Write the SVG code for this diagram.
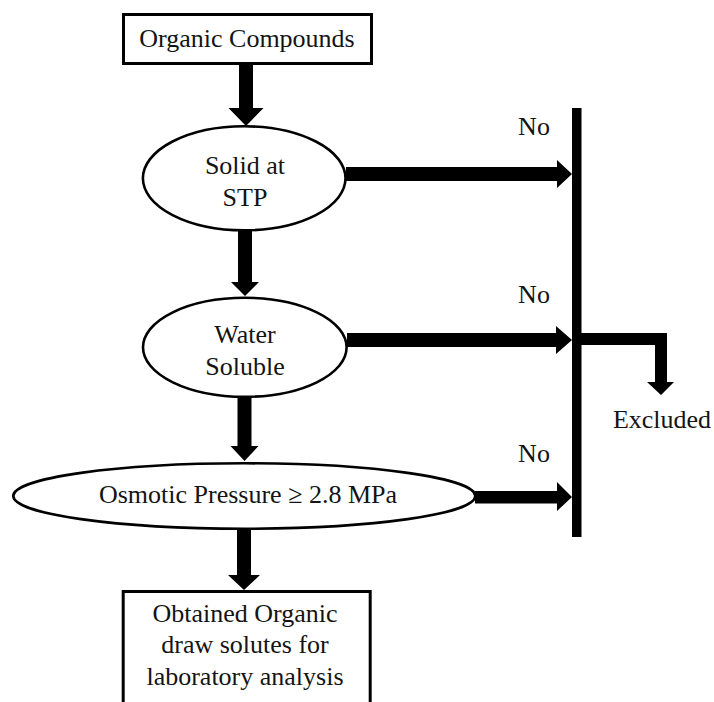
<svg xmlns="http://www.w3.org/2000/svg" width="714" height="702" viewBox="0 0 714 702">
<style>
.box{fill:#fff;stroke:#000;stroke-width:3}
.ell{fill:#fff;stroke:#000;stroke-width:2.6}
.arrow{fill:#000;stroke:none}
text{font-family:'Liberation Serif',Tinos,'Times New Roman','DejaVu Serif',serif;font-size:26px;fill:#141414;text-anchor:middle}
</style>
<rect width="714" height="702" fill="#fff"/>
<g id="connectors">
  <polygon class="arrow" points="239,64 253,64 253,108 263.5,108 246,126 228.5,108 239,108"/>
  <polygon class="arrow" points="238,230 252,230 252,282 259,282 245,296 231,282 238,282"/>
  <polygon class="arrow" points="237.5,397 251.5,397 251.5,446 258.5,446 244.5,461 230.5,446 237.5,446"/>
  <polygon class="arrow" points="237,529 251,529 251,575 260,575 244,590 228,575 237,575"/>
  <polygon class="arrow" points="346,167 557,167 557,160 572,174 557,188 557,181 346,181"/>
  <polygon class="arrow" points="347,333 556,333 556,326 572,340 556,354 556,347 347,347"/>
  <polygon class="arrow" points="475,491 557,491 557,482 572,497 557,511 557,503.5 475,503.5"/>
  <rect class="arrow" x="572" y="108" width="9.5" height="429"/>
  <polygon class="arrow" points="581,333 667,333 667,382 674,382 661,395 647,382 655,382 655,345 581,345"/>
</g>
<g id="node-organic">
  <rect class="box" x="123.5" y="14.5" width="248" height="49"/>
  <text x="247" y="47" font-family="Liberation Serif, serif">Organic Compounds</text>
</g>
<g id="node-solid">
  <ellipse class="ell" cx="244.2" cy="178.3" rx="101.3" ry="52"/>
  <text x="245" y="174" font-family="Liberation Serif, serif">Solid at</text>
  <text x="245" y="206" font-family="Liberation Serif, serif">STP</text>
</g>
<g id="node-water">
  <ellipse class="ell" cx="244.8" cy="347.3" rx="101.8" ry="49.5"/>
  <text x="245" y="343" font-family="Liberation Serif, serif">Water</text>
  <text x="245" y="375" font-family="Liberation Serif, serif">Soluble</text>
</g>
<g id="node-osmotic">
  <ellipse class="ell" cx="244.3" cy="496" rx="231" ry="32.7"/>
  <text x="248" y="503" font-family="Liberation Serif, serif">Osmotic Pressure ≥ 2.8 MPa</text>
</g>
<g id="node-obtained">
  <rect class="box" x="123.2" y="591.5" width="247" height="112"/>
  <text x="245" y="622" font-family="Liberation Serif, serif">Obtained Organic</text>
  <text x="245" y="653" font-family="Liberation Serif, serif">draw solutes for</text>
  <text x="245" y="685" font-family="Liberation Serif, serif">laboratory analysis</text>
</g>
<g id="labels">
  <text x="534" y="135" font-family="Liberation Serif, serif">No</text>
  <text x="534" y="303" font-family="Liberation Serif, serif">No</text>
  <text x="534" y="462" font-family="Liberation Serif, serif">No</text>
  <text x="662" y="428" font-family="Liberation Serif, serif">Excluded</text>
</g>
</svg>
